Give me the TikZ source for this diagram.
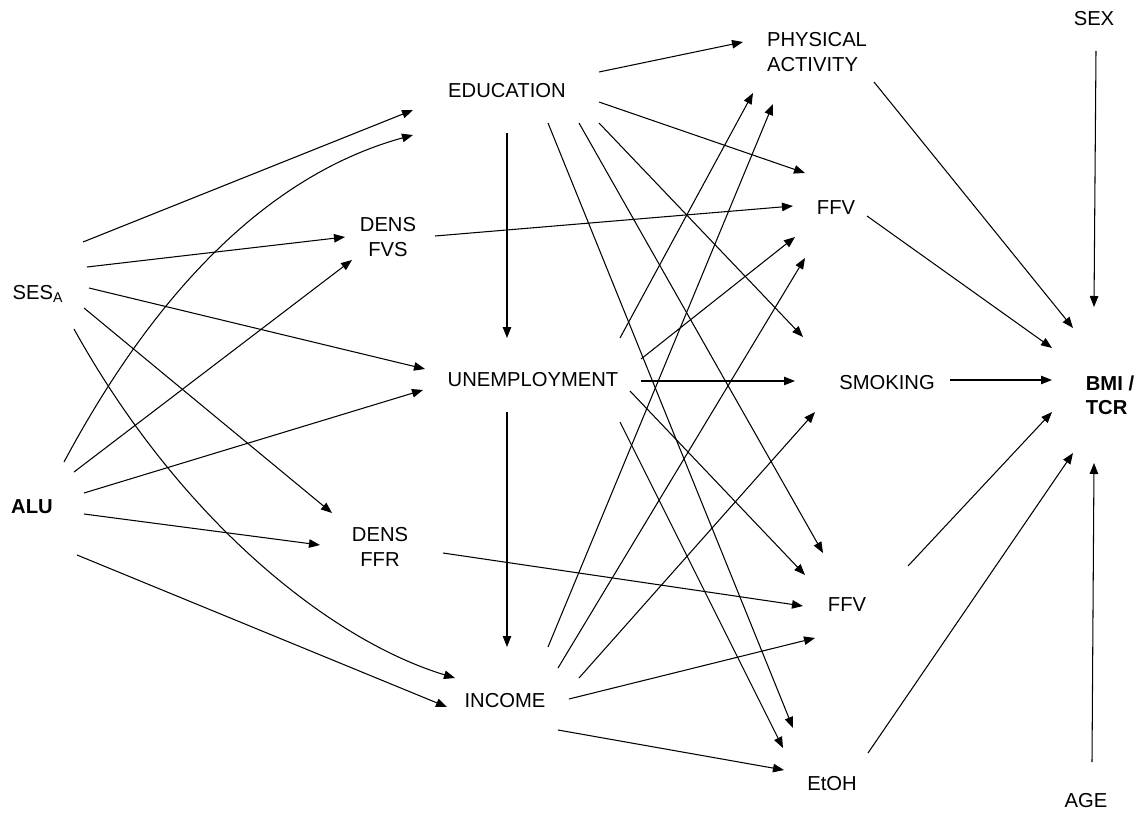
\documentclass[tikz,border=0pt]{standalone}
\usepackage{fontspec}
\setmainfont{Liberation Sans}
\usetikzlibrary{calc,arrows.meta}
\tikzset{
  var/.style={align=center, inner sep=1pt, font=\fontsize{11.5}{13.8}\selectfont},
  outc/.style={var, align=left, font=\fontsize{11.5}{13.8}\selectfont\bfseries},
  arr/.style={-{Triangle[length=2.2mm,width=1.7mm]}, line width=0.6pt},
}
\begin{document}
\begin{tikzpicture}[x=0.2mm,y=-0.2mm]
\useasboundingbox (0,0) rectangle (1144,815);
% variables
\node[var] (ses) at (38,294) {SES\textsubscript{A}};
\node[var, font=\fontsize{11.5}{13.8}\selectfont\bfseries] (alu) at (32,507) {ALU};
\node[var] (edu) at (507,91) {EDUCATION};
\node[var] (fvs) at (388,237) {DENS\\FVS};
\node[var] (unemp) at (533,380) {UNEMPLOYMENT};
\node[var] (ffr) at (380,547) {DENS\\FFR};
\node[var] (inc) at (505,701) {INCOME};
\node[var, align=left] (phys) at (817,52) {PHYSICAL\\ACTIVITY};
\node[var] (ffvA) at (836,208) {FFV};
\node[var] (smok) at (887,383) {SMOKING};
\node[var] (ffvB) at (847,605) {FFV};
\node[var] (etoh) at (832,784) {EtOH};
\node[outc] (bmi) at (1110,395) {BMI /\\TCR};
\node[var] (sex) at (1094,19) {SEX};
\node[var] (age) at (1086,801) {AGE};
% SES
\draw[arr] ($(ses)+(45,-52)$) -- ($(edu)+(-94,19)$);
\draw[arr] ($(ses)+(49,-27)$) -- ($(fvs)+(-43,0)$);
\draw[arr] ($(ses)+(51,-6)$) -- ($(unemp)+(-108,-11)$);
\draw[arr] ($(ses)+(46,14)$) -- ($(ffr)+(-48,-34)$);
\draw[arr] ($(ses)+(36,35)$) .. controls +(106,191) and +(-125,-38) .. ($(inc)+(-50,-23)$);
% ALU
\draw[arr] ($(alu)+(32,-45)$) .. controls +(76,-142) and +(-163,45) .. ($(edu)+(-94,44)$);
\draw[arr] ($(alu)+(42,-35)$) -- ($(fvs)+(-36,23)$);
\draw[arr] ($(alu)+(52,-14)$) -- ($(unemp)+(-110,10)$);
\draw[arr] ($(alu)+(52,7)$) -- ($(ffr)+(-60,-2)$);
\draw[arr] ($(alu)+(45,48)$) -- ($(inc)+(-58,6)$);
% education
\draw[arr] ($(edu)+(92,-19)$) -- ($(phys)+(-74,-10)$);
\draw[arr] ($(edu)+(92,11)$) -- ($(ffvA)+(-31,-35)$);
\draw[arr] ($(edu)+(0,42)$) -- ($(unemp)+(-26,-42)$);
\draw[arr] ($(edu)+(41,32)$) -- ($(etoh)+(-39,-56)$);
\draw[arr] ($(edu)+(72,32)$) -- ($(ffvB)+(-24,-52)$);
\draw[arr] ($(edu)+(92,32)$) -- ($(smok)+(-84,-46)$);
% unemployment
\draw[arr] ($(unemp)+(-26,32)$) -- ($(inc)+(2,-54)$);
\draw[arr] ($(unemp)+(108,1)$) -- ($(smok)+(-92,-2)$);
\draw[arr] ($(unemp)+(97,11)$) -- ($(ffvB)+(-42,-30)$);
\draw[arr] ($(unemp)+(87,-42)$) -- ($(phys)+(-64,41)$);
\draw[arr] ($(unemp)+(108,-21)$) -- ($(ffvA)+(-41,29)$);
\draw[arr] ($(unemp)+(87,42)$) -- ($(etoh)+(-49,-36)$);
% income
\draw[arr] ($(inc)+(43,-54)$) -- ($(phys)+(-44,52)$);
\draw[arr] ($(inc)+(53,-33)$) -- ($(ffvA)+(-31,50)$);
\draw[arr] ($(inc)+(74,-23)$) -- ($(smok)+(-72,29)$);
\draw[arr] ($(inc)+(64,-2)$) -- ($(ffvB)+(-32,33)$);
\draw[arr] ($(inc)+(53,29)$) -- ($(etoh)+(-48,-14)$);
% densities
\draw[arr] ($(fvs)+(47,-1)$) -- ($(ffvA)+(-43,-2)$);
\draw[arr] ($(ffr)+(63,6)$) -- ($(ffvB)+(-44,1)$);
% outcome
\draw[arr] ($(phys)+(57,30)$) -- ($(bmi)+(-37,-67)$);
\draw[arr] ($(ffvA)+(31,8)$) -- ($(bmi)+(-58,-47)$);
\draw[arr] ($(smok)+(63,-3)$) -- ($(bmi)+(-58,-15)$);
\draw[arr] ($(ffvB)+(61,-39)$) -- ($(bmi)+(-58,17)$);
\draw[arr] ($(etoh)+(36,-31)$) -- ($(bmi)+(-37,58)$);
\draw[arr] ($(sex)+(2,32)$) -- ($(bmi)+(-16,-88)$);
\draw[arr] ($(age)+(6,-39)$) -- ($(bmi)+(-16,68)$);
\end{tikzpicture}
\end{document}
